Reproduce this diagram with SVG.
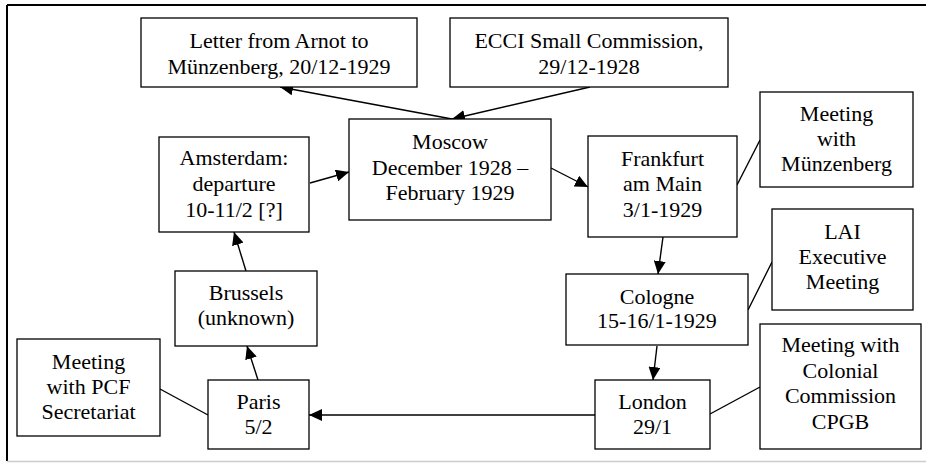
<svg xmlns="http://www.w3.org/2000/svg" width="926" height="464" viewBox="0 0 926 464">
<defs>
<marker id="ah" markerUnits="userSpaceOnUse" markerWidth="14" markerHeight="12" refX="13" refY="6" orient="auto">
<path d="M0,0 L13,6 L0,12 z" fill="#000"/>
</marker>
</defs>
<rect width="926" height="464" fill="#fff"/>
<g id="frame">
<line x1="7" y1="5" x2="926" y2="5" stroke="#000" stroke-width="2"/>
<line x1="7" y1="5" x2="7" y2="461" stroke="#000" stroke-width="2"/>
<line x1="7" y1="461.5" x2="926" y2="461.5" stroke="#ccc" stroke-width="1.5"/>
</g>
<g id="connectors" stroke="#000" stroke-width="1.4">
<line x1="452" y1="119" x2="280" y2="87" marker-end="url(#ah)"/>
<line x1="590" y1="87" x2="452" y2="119" marker-end="url(#ah)"/>
<line x1="310" y1="183" x2="349" y2="172" marker-end="url(#ah)"/>
<line x1="551" y1="168" x2="588" y2="187" marker-end="url(#ah)"/>
<line x1="737" y1="185" x2="760" y2="140"/>
<line x1="663" y1="237" x2="658" y2="274" marker-end="url(#ah)"/>
<line x1="748" y1="310" x2="772" y2="262"/>
<line x1="657" y1="346" x2="653" y2="380" marker-end="url(#ah)"/>
<line x1="710" y1="414" x2="760" y2="387"/>
<line x1="595" y1="415" x2="309" y2="415" marker-end="url(#ah)"/>
<line x1="208" y1="415" x2="160" y2="389"/>
<line x1="258" y1="380" x2="247" y2="346" marker-end="url(#ah)"/>
<line x1="246" y1="271" x2="234" y2="232" marker-end="url(#ah)"/>
</g>
<g id="letter"><rect x="141" y="18" width="276" height="69" fill="#fff" stroke="#000" stroke-width="1.3"/>
<text x="279" y="48" font-family="Times New Roman" font-size="22" text-anchor="middle">Letter from Arnot to</text>
<text x="279" y="74" font-family="Times New Roman" font-size="22" text-anchor="middle">Münzenberg, 20/12-1929</text></g>
<g id="ecci"><rect x="450" y="18" width="278" height="69" fill="#fff" stroke="#000" stroke-width="1.3"/>
<text x="589" y="48" font-family="Times New Roman" font-size="22" text-anchor="middle">ECCI Small Commission,</text>
<text x="589" y="74" font-family="Times New Roman" font-size="22" text-anchor="middle">29/12-1928</text></g>
<g id="moscow"><rect x="349" y="119" width="202" height="101" fill="#fff" stroke="#000" stroke-width="1.3"/>
<text x="450" y="149" font-family="Times New Roman" font-size="22" text-anchor="middle">Moscow</text>
<text x="450" y="175" font-family="Times New Roman" font-size="22" text-anchor="middle">December 1928 –</text>
<text x="450" y="200" font-family="Times New Roman" font-size="22" text-anchor="middle">February 1929</text></g>
<g id="amsterdam"><rect x="159" y="137" width="150" height="95" fill="#fff" stroke="#000" stroke-width="1.3"/>
<text x="234" y="165" font-family="Times New Roman" font-size="22" text-anchor="middle">Amsterdam:</text>
<text x="234" y="191" font-family="Times New Roman" font-size="22" text-anchor="middle">departure</text>
<text x="234" y="217" font-family="Times New Roman" font-size="22" text-anchor="middle">10-11/2 [?]</text></g>
<g id="frankfurt"><rect x="588" y="136" width="149" height="101" fill="#fff" stroke="#000" stroke-width="1.3"/>
<text x="662.5" y="166" font-family="Times New Roman" font-size="22" text-anchor="middle">Frankfurt</text>
<text x="662.5" y="191" font-family="Times New Roman" font-size="22" text-anchor="middle">am Main</text>
<text x="662.5" y="217" font-family="Times New Roman" font-size="22" text-anchor="middle">3/1-1929</text></g>
<g id="meeting-munzenberg"><rect x="760" y="92" width="153" height="95" fill="#fff" stroke="#000" stroke-width="1.3"/>
<text x="836.5" y="121" font-family="Times New Roman" font-size="22" text-anchor="middle">Meeting</text>
<text x="836.5" y="146" font-family="Times New Roman" font-size="22" text-anchor="middle">with</text>
<text x="836.5" y="171" font-family="Times New Roman" font-size="22" text-anchor="middle">Münzenberg</text></g>
<g id="lai"><rect x="772" y="209" width="141" height="101" fill="#fff" stroke="#000" stroke-width="1.3"/>
<text x="842.5" y="239" font-family="Times New Roman" font-size="22" text-anchor="middle">LAI</text>
<text x="842.5" y="264" font-family="Times New Roman" font-size="22" text-anchor="middle">Executive</text>
<text x="842.5" y="289" font-family="Times New Roman" font-size="22" text-anchor="middle">Meeting</text></g>
<g id="cologne"><rect x="566" y="274" width="182" height="71" fill="#fff" stroke="#000" stroke-width="1.3"/>
<text x="657" y="304" font-family="Times New Roman" font-size="22" text-anchor="middle">Cologne</text>
<text x="657" y="328" font-family="Times New Roman" font-size="22" text-anchor="middle">15-16/1-1929</text></g>
<g id="cpgb"><rect x="760" y="324" width="161" height="125" fill="#fff" stroke="#000" stroke-width="1.3"/>
<text x="840.5" y="352" font-family="Times New Roman" font-size="22" text-anchor="middle">Meeting with</text>
<text x="840.5" y="377.5" font-family="Times New Roman" font-size="22" text-anchor="middle">Colonial</text>
<text x="840.5" y="403" font-family="Times New Roman" font-size="22" text-anchor="middle">Commission</text>
<text x="840.5" y="428.5" font-family="Times New Roman" font-size="22" text-anchor="middle">CPGB</text></g>
<g id="london"><rect x="595" y="380" width="115" height="69" fill="#fff" stroke="#000" stroke-width="1.3"/>
<text x="652.5" y="409" font-family="Times New Roman" font-size="22" text-anchor="middle">London</text>
<text x="652.5" y="434" font-family="Times New Roman" font-size="22" text-anchor="middle">29/1</text></g>
<g id="paris"><rect x="208" y="380" width="101" height="69" fill="#fff" stroke="#000" stroke-width="1.3"/>
<text x="258.5" y="409" font-family="Times New Roman" font-size="22" text-anchor="middle">Paris</text>
<text x="258.5" y="434" font-family="Times New Roman" font-size="22" text-anchor="middle">5/2</text></g>
<g id="pcf"><rect x="17" y="339" width="143" height="97" fill="#fff" stroke="#000" stroke-width="1.3"/>
<text x="88.5" y="369" font-family="Times New Roman" font-size="22" text-anchor="middle">Meeting</text>
<text x="88.5" y="394" font-family="Times New Roman" font-size="22" text-anchor="middle">with PCF</text>
<text x="88.5" y="419" font-family="Times New Roman" font-size="22" text-anchor="middle">Secretariat</text></g>
<g id="brussels"><rect x="175" y="271" width="142" height="75" fill="#fff" stroke="#000" stroke-width="1.3"/>
<text x="246" y="300" font-family="Times New Roman" font-size="22" text-anchor="middle">Brussels</text>
<text x="246" y="325" font-family="Times New Roman" font-size="22" text-anchor="middle">(unknown)</text></g>
</svg>
